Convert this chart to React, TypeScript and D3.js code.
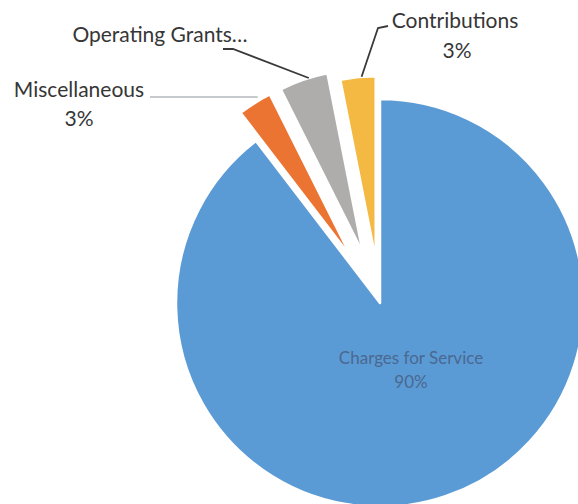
import React from "react";
import * as d3 from "d3";

const categories = ["Charges for Service", "Miscellaneous", "Operating Grants", "Contributions"];
const values = [89.6, 3.0, 4.3, 3.1];
const percentLabels = ["90%", "3%", "", "3%"];
const nameLabels = ["Charges for Service", "Miscellaneous", "Operating Grants…", "Contributions"];

const colors = ["#5b9bd5", "#ec7432", "#aeadab", "#f4b943"];
const explode = [0, 53, 53, 44];
const radii = [204, 183, 183, 183];

const W = 578;
const H = 504;
const cx = 380;
const cy = 303;
const font = "Lato, 'Open Sans', sans-serif";

export default function App() {
  const data = categories.map((c, i) => ({ name: c, value: values[i], i }));
  const pie = d3
    .pie<any>()
    .sort(null)
    .value((d: any) => d.value)
    .startAngle(0)
    .endAngle(2 * Math.PI);
  const arcs = pie(data);

  const slices = arcs.map((a: any) => {
    const i = a.data.i;
    const mid = (a.startAngle + a.endAngle) / 2;
    const dx = Math.sin(mid) * explode[i];
    const dy = -Math.cos(mid) * explode[i];
    const gen = d3.arc<any>().innerRadius(0).outerRadius(radii[i]);
    return { i, d: gen(a) as string, dx, dy, a };
  });

  const pt = (i: number, ang: number) => {
    const s = slices[i];
    return [cx + s.dx + Math.sin(ang) * radii[i], cy + s.dy - Math.cos(ang) * radii[i]];
  };

  const yMid = (slices[3].a.startAngle + slices[3].a.endAngle) / 2;
  const gMid = (slices[2].a.startAngle + slices[2].a.endAngle) / 2;
  const oStart = slices[1].a.startAngle;
  const pY = pt(3, yMid + 0.02);
  const pG = pt(2, gMid + 0.03);
  const pO = pt(1, oStart + 0.1);

  return (
    <svg
      width={W}
      height={H}
      style={{ position: "absolute", left: 0, top: 0, background: "#fff" }}
      fontFamily={font}
    >
      <rect width={W} height={H} fill="#fff" />
      {slices.map((s) => (
        <path
          key={s.i}
          d={s.d}
          transform={`translate(${cx + s.dx},${cy + s.dy})`}
          fill={colors[s.i]}
          stroke="#fff"
          strokeWidth={2.5}
          strokeLinejoin="round"
        />
      ))}

      <polyline
        points={`${pY[0]},${pY[1]} 378,28 388,26`}
        fill="none"
        stroke="#3a3a3a"
        strokeWidth={1.8}
      />
      <polyline
        points={`${pG[0]},${pG[1]} 233,49 223,49`}
        fill="none"
        stroke="#3a3a3a"
        strokeWidth={1.8}
      />
      <polyline
        points={`150,97 ${pO[0] + 2},97`}
        fill="none"
        stroke="#b4b8bd"
        strokeWidth={1.6}
      />

      <g fill="#363636" fontSize={21} textAnchor="middle">
        <text x={455} y={28}>{nameLabels[3]}</text>
        <text x={457} y={58}>{percentLabels[3]}</text>
        <text x={160} y={42}>{nameLabels[2]}</text>
        <text x={79} y={97}>{nameLabels[1]}</text>
        <text x={79} y={126}>{percentLabels[1]}</text>
      </g>
      <g fill="#4a6890" fontSize={17} textAnchor="middle">
        <text x={411} y={364}>{nameLabels[0]}</text>
        <text x={411} y={388}>{percentLabels[0]}</text>
      </g>
    </svg>
  );
}
